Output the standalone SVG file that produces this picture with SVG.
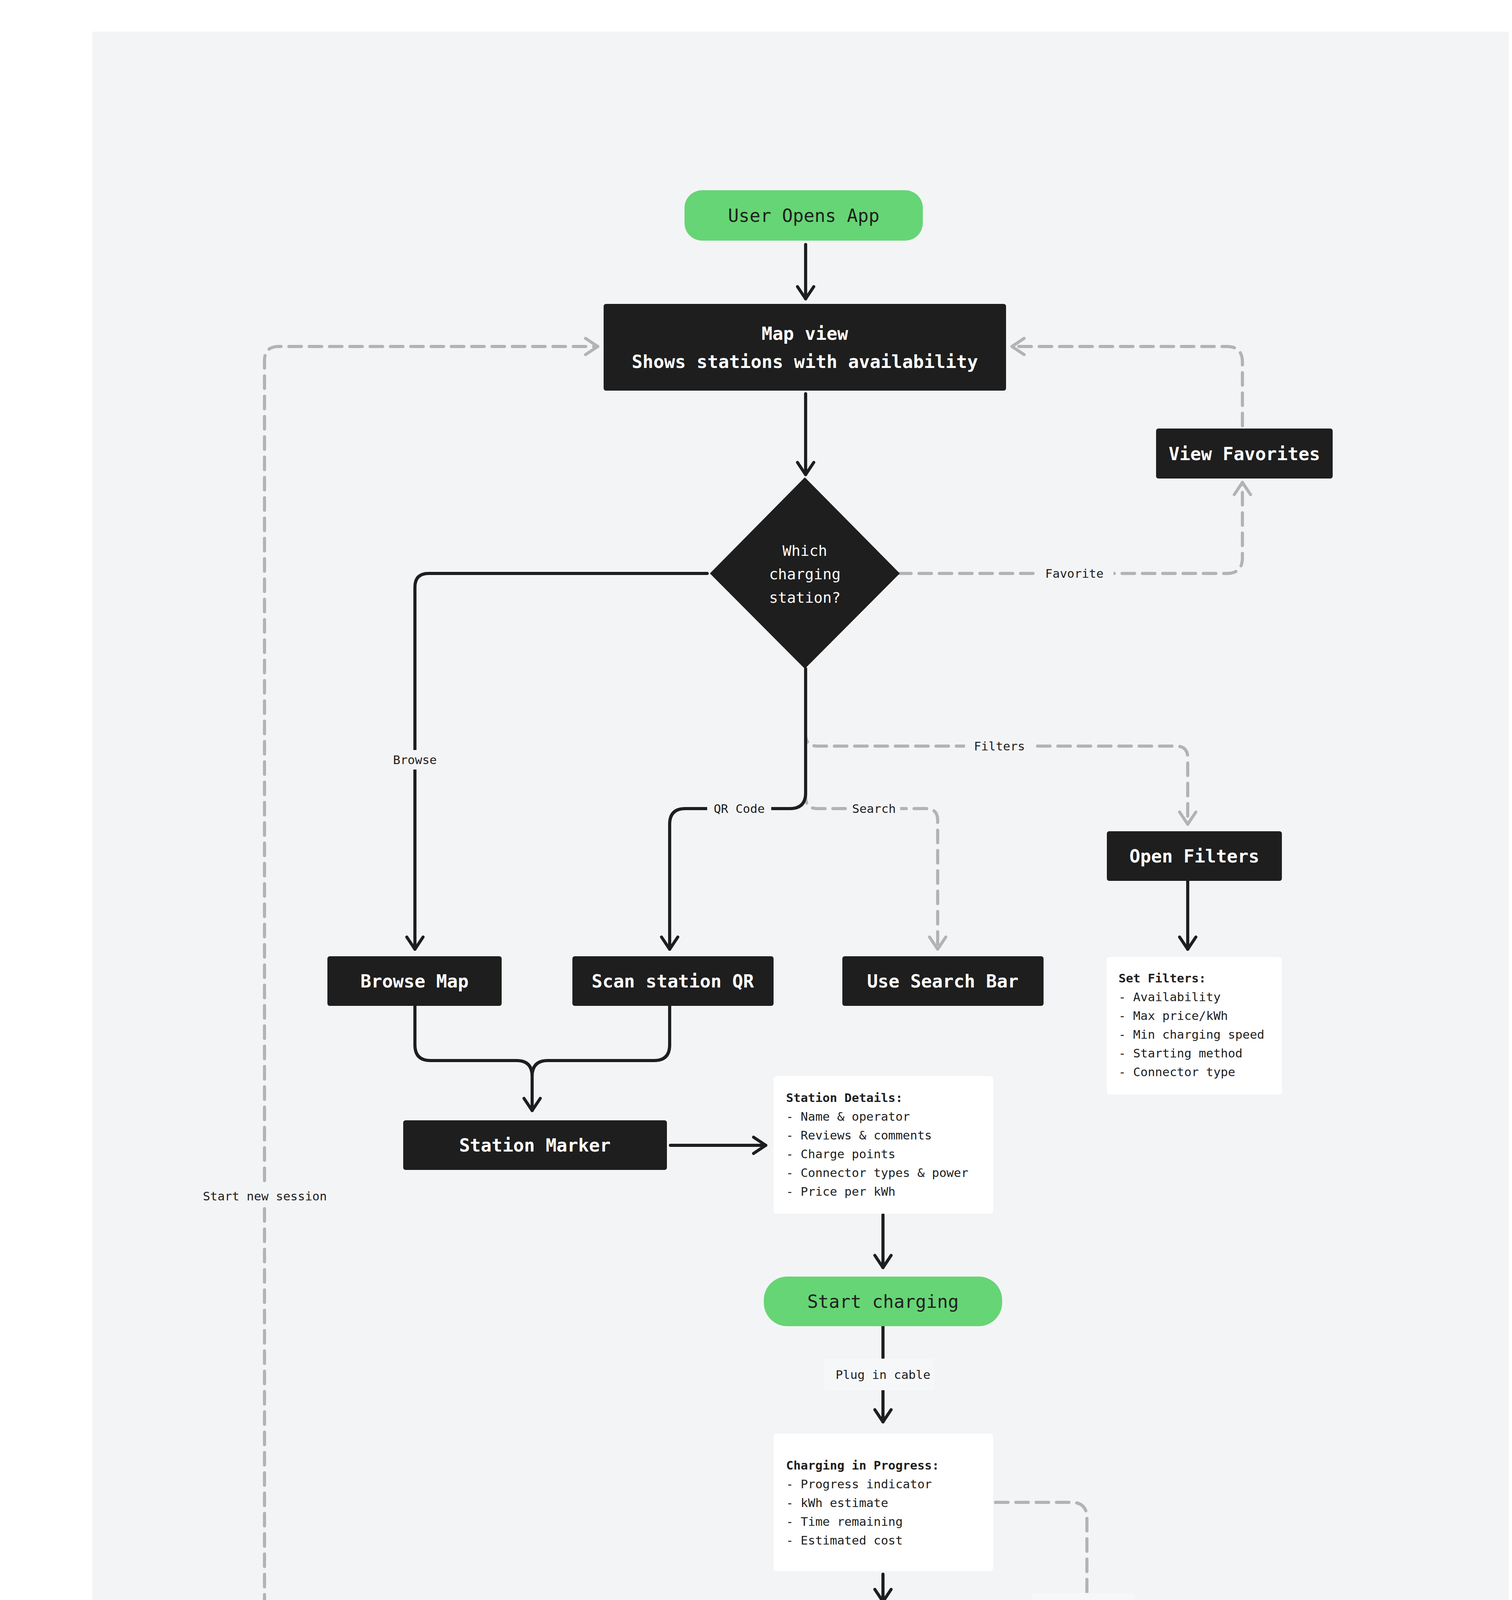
<svg xmlns="http://www.w3.org/2000/svg" width="3870" height="5756" viewBox="0 0 3870 5756">
<style>
.t{font-family:"DejaVu Sans Mono","Liberation Mono",monospace}
.g rect{fill:#66d575}
.g text{fill:#1e1e1e;font-size:46px;font-weight:500}
.d rect,.d polygon{fill:#1e1e1e}
.d text{fill:#ffffff;font-size:46px;font-weight:bold}
.n rect{fill:#ffffff}
.n text{fill:#1e1e1e;font-size:31px}
.s{fill:none;stroke:#1e1e1e;stroke-width:8;stroke-linecap:round;stroke-linejoin:round}
.k{fill:none;stroke:#b3b3b3;stroke-width:8;stroke-dasharray:32 20;stroke-linecap:round}
.lb{fill:#f3f4f6}
.lt{fill:#1e1e1e;font-size:31px}
</style>
<defs>
<marker id="ab" viewBox="0 0 20 20" refX="18" refY="10" markerWidth="52" markerHeight="52" markerUnits="userSpaceOnUse" orient="auto"><path d="M6 2 L18 10 L6 18" fill="none" stroke="#1e1e1e" stroke-width="3" stroke-linecap="round" stroke-linejoin="round"/></marker>
<marker id="ag" viewBox="0 0 20 20" refX="18" refY="10" markerWidth="52" markerHeight="52" markerUnits="userSpaceOnUse" orient="auto"><path d="M6 2 L18 10 L6 18" fill="none" stroke="#b3b3b3" stroke-width="3" stroke-linecap="round" stroke-linejoin="round"/></marker>
</defs>
<rect width="3870" height="5756" fill="#ffffff"/>
<rect x="236" y="81" width="3626" height="5619" fill="#f3f4f6"/>
<g id="connectors" class="t">
<path class="s" d="M2062 626 V765" marker-end="url(#ab)"/>
<path class="s" d="M2062 1008 V1215" marker-end="url(#ab)"/>
<path class="k" d="M2062 1712 V2040 Q2062 2070 2092 2070 H2370 Q2400 2070 2400 2100 V2430" marker-end="url(#ag)"/>
<path class="k" d="M2062 1712 V1880 Q2062 1910 2092 1910 H3010 Q3040 1910 3040 1940 V2110" marker-end="url(#ag)"/>
<path class="s" d="M2062 1712 V2030 Q2062 2070 2022 2070 H1754 Q1714 2070 1714 2110 V2430" marker-end="url(#ab)"/>
<path class="s" d="M1810 1468 H1097 Q1062 1468 1062 1503 V2430" marker-end="url(#ab)"/>
<path class="k" d="M2300 1468 H3140 Q3180 1468 3180 1428 V1235" marker-end="url(#ag)"/>
<path class="k" d="M3180 1090 V927 Q3180 887 3140 887 H2590" marker-end="url(#ag)"/>
<path class="s" d="M3040 2255 V2430" marker-end="url(#ab)"/>
<path class="s" d="M1062 2575 V2675 Q1062 2715 1102 2715 H1322 Q1362 2715 1362 2755 V2843" marker-end="url(#ab)"/>
<path class="s" d="M1714 2575 V2675 Q1714 2715 1674 2715 H1402 Q1362 2715 1362 2755"/>
<path class="s" d="M1716 2932 H1960" marker-end="url(#ab)"/>
<path class="s" d="M2260 3110 V3245" marker-end="url(#ab)"/>
<path class="s" d="M2260 3393 V3640" marker-end="url(#ab)"/>
<path class="s" d="M2260 4030 V4100" marker-end="url(#ab)"/>
<path class="s" d="M2260 4255 V4323" marker-end="url(#ab)"/>
<path class="s" d="M2260 4705 V4780" marker-end="url(#ab)"/>
<path class="s" d="M2260 5000 V5150" marker-end="url(#ab)"/>
<path class="k" d="M2548 3846 H2742 Q2782 3846 2782 3886 V4485 Q2782 4525 2742 4525 H2552" marker-end="url(#ag)"/>
<path class="k" d="M1810 5231 H713 Q677 5231 677 5195 V923 Q677 887 713 887 H1530" marker-end="url(#ag)"/>
<rect class="lb" x="990" y="1920" width="144" height="50"/><text class="lt" x="1062" y="1956" text-anchor="middle">Browse</text>
<rect class="lb" x="2470" y="1885" width="176" height="50"/><text class="lt" x="2558" y="1921" text-anchor="middle">Filters</text>
<rect class="lb" x="1810" y="2045" width="164" height="50"/><text class="lt" x="1892" y="2081" text-anchor="middle">QR Code</text>
<rect class="lb" x="2170" y="2045" width="134" height="50"/><text class="lt" x="2237" y="2081" text-anchor="middle">Search</text>
<rect class="lb" x="2650" y="1443" width="200" height="50"/><text class="lt" x="2750" y="1479" text-anchor="middle">Favorite</text>
<rect class="lb" x="510" y="3037" width="336" height="50"/><text class="lt" x="678" y="3073" text-anchor="middle">Start new session</text>
<rect x="2110" y="3478" width="280" height="81" fill="#f6f7f8"/><text class="lt" x="2260" y="3530" text-anchor="middle">Plug in cable</text>
<rect x="2641" y="4078" width="262" height="175" fill="#f6f7f8"/>
<text class="lt" x="2782" y="4150" text-anchor="middle">Unplug cable</text>
<text class="lt" x="2782" y="4198" text-anchor="middle">or</text>
<text class="lt" x="2782" y="4246" text-anchor="middle">Autocomplete</text>
</g>
<g id="user-opens-app" class="t g"><rect x="1752" y="487" width="610" height="129" rx="45"/><text x="2057" y="568" text-anchor="middle">User Opens App</text></g>
<g id="map-view" class="t d"><rect x="1545" y="778" width="1030" height="222" rx="6"/><text x="2060" y="870" text-anchor="middle">Map view</text><text x="2060" y="942" text-anchor="middle">Shows stations with availability</text></g>
<g id="decision" class="t d"><polygon points="2060,1222 2303,1468 2060,1712 1817,1468"/><text x="2060" y="1423" text-anchor="middle" style="font-size:38px;font-weight:500">Which</text><text x="2060" y="1483" text-anchor="middle" style="font-size:38px;font-weight:500">charging</text><text x="2060" y="1543" text-anchor="middle" style="font-size:38px;font-weight:500">station?</text></g>
<g id="view-favorites" class="t d"><rect x="2959" y="1097" width="452" height="128" rx="6"/><text x="3185" y="1178" text-anchor="middle">View Favorites</text></g>
<g id="open-filters" class="t d"><rect x="2833" y="2128" width="448" height="127" rx="6"/><text x="3057" y="2208" text-anchor="middle">Open Filters</text></g>
<g id="browse-map" class="t d"><rect x="838" y="2448" width="446" height="127" rx="6"/><text x="1061" y="2528" text-anchor="middle">Browse Map</text></g>
<g id="scan-qr" class="t d"><rect x="1465" y="2448" width="515" height="127" rx="6"/><text x="1722" y="2528" text-anchor="middle">Scan station QR</text></g>
<g id="use-search-bar" class="t d"><rect x="2156" y="2448" width="515" height="127" rx="6"/><text x="2413" y="2528" text-anchor="middle">Use Search Bar</text></g>
<g id="set-filters" class="t n"><rect x="2833" y="2450" width="448" height="352" rx="8"/>
<text x="2863" y="2515"><tspan font-weight="bold">Set Filters:</tspan><tspan x="2863" dy="48">- Availability</tspan><tspan x="2863" dy="48">- Max price/kWh</tspan><tspan x="2863" dy="48">- Min charging speed</tspan><tspan x="2863" dy="48">- Starting method</tspan><tspan x="2863" dy="48">- Connector type</tspan></text></g>
<g id="station-marker" class="t d"><rect x="1032" y="2868" width="675" height="127" rx="6"/><text x="1369" y="2948" text-anchor="middle">Station Marker</text></g>
<g id="station-details" class="t n"><rect x="1980" y="2755" width="562" height="352" rx="8"/>
<text x="2012" y="2821"><tspan font-weight="bold">Station Details:</tspan><tspan x="2012" dy="48">- Name &amp; operator</tspan><tspan x="2012" dy="48">- Reviews &amp; comments</tspan><tspan x="2012" dy="48">- Charge points</tspan><tspan x="2012" dy="48">- Connector types &amp; power</tspan><tspan x="2012" dy="48">- Price per kWh</tspan></text></g>
<g id="start-charging" class="t g"><rect x="1955" y="3268" width="610" height="127" rx="60"/><text x="2260" y="3348" text-anchor="middle">Start charging</text></g>
<g id="charging-progress" class="t n"><rect x="1980" y="3670" width="562" height="352" rx="8"/>
<text x="2012" y="3762"><tspan font-weight="bold">Charging in Progress:</tspan><tspan x="2012" dy="48">- Progress indicator</tspan><tspan x="2012" dy="48">- kWh estimate</tspan><tspan x="2012" dy="48">- Time remaining</tspan><tspan x="2012" dy="48">- Estimated cost</tspan></text></g>
<g id="stop-charging" class="t d"><rect x="2004" y="4122" width="513" height="127" rx="6"/><text x="2260" y="4202" text-anchor="middle">Stop charging</text></g>
<g id="session-complete" class="t n"><rect x="1980" y="4345" width="562" height="352" rx="8"/>
<text x="2012" y="4412"><tspan font-weight="bold">Session Complete:</tspan><tspan x="2012" dy="48">- Power charged (kWh)</tspan><tspan x="2012" dy="48">- Total cost</tspan><tspan x="2012" dy="48">- Duration</tspan><tspan x="2012" dy="48">- Avg speed</tspan><tspan x="2012" dy="48">- Payment method</tspan></text></g>
<g id="view-details" class="t d"><rect x="1922" y="4796" width="676" height="193" rx="6"/><text x="2260" y="4876" text-anchor="middle">View Details &amp;</text><text x="2260" y="4948" text-anchor="middle">Download Receipt</text></g>
<g id="exit-return" class="t g"><rect x="1819" y="5168" width="881" height="127" rx="60"/><text x="2260" y="5248" text-anchor="middle">Exit/return to Map</text></g>
</svg>
